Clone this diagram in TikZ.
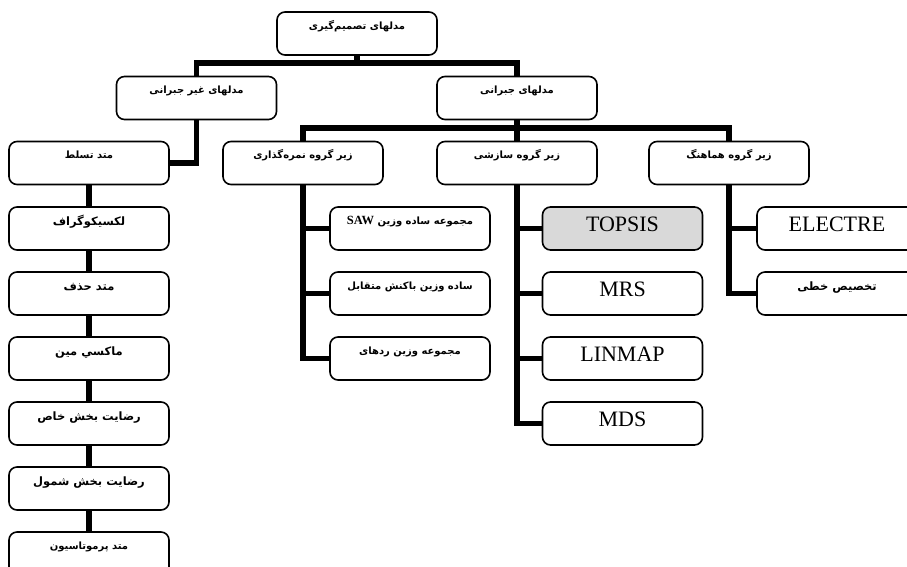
\documentclass[tikz,border=0pt]{standalone}
\usepackage{fontspec}
\setmainfont{Liberation Serif}
\newfontfamily\fa[Script=Arabic]{DejaVu Sans}
\TeXXeTstate=1
\definecolor{boxgray}{HTML}{D9D9D9}
\tikzset{
  box/.style={draw, line width=1.6pt, rounded corners=8pt, minimum width=160pt,
    minimum height=43pt, inner sep=0pt, text height=17pt, text depth=26pt,
    font=\fa\bfseries\fontsize{10}{12}\selectfont},
  bigfa/.style={font=\fa\bfseries\fontsize{11.5}{13}\selectfont, text height=18pt, text depth=25pt},
  lat/.style={font=\rmfamily\fontsize{22}{24}\selectfont, text height=24pt, text depth=19pt},
  conn/.style={line width=5.5pt, line join=miter}
}
\begin{document}
\begin{tikzpicture}[x=1pt,y=-1pt]
\clip (0,0) rectangle (907,566);
% top levels
\node[box] (top) at (357,33.5) {\beginR مدلهای تصمیم‌گیری\endR};
\node[box] (L) at (196.5,98) {\beginR مدلهای غیر جبرانی\endR};
\node[box] (R) at (517,98) {\beginR مدلهای جبرانی\endR};
\node[box] (A) at (303,163) {\beginR زیر گروه نمره‌گذاری\endR};
\node[box] (B) at (517,163) {\beginR زیر گروه سازشی\endR};
\node[box] (C) at (729,163) {\beginR زیر گروه هماهنگ\endR};
% left column
\node[box] (l1) at (89,163) {\beginR متد تسلط\endR};
\node[box,bigfa] (l2) at (89,228.5) {\beginR لکسیکوگراف\endR};
\node[box,bigfa] (l3) at (89,293.5) {\beginR متد حذف\endR};
\node[box,bigfa] (l4) at (89,358.5) {\beginR ماکسي مين\endR};
\node[box,bigfa] (l5) at (89,423.5) {\beginR رضایت بخش خاص\endR};
\node[box,bigfa] (l6) at (89,488.5) {\beginR رضایت بخش شمول\endR};
\node[box] (l7) at (89,553.5) {\beginR متد پرموتاسیون\endR};
% scoring children
\node[box] (a1) at (410,228.5) {\beginR مجموعه ساده وزین \beginL{\rmfamily\bfseries\fontsize{12.5}{14}\selectfont SAW}\endL\endR};
\node[box] (a2) at (410,293.5) {\beginR ساده وزین باکنش متقابل\endR};
\node[box] (a3) at (410,358.5) {\beginR مجموعه وزین ردهای\endR};
% compromise children
\node[box,lat,fill=boxgray] (b1) at (622.5,228.5) {TOPSIS};
\node[box,lat] (b2) at (622.5,293.5) {MRS};
\node[box,lat] (b3) at (622.5,358.5) {LINMAP};
\node[box,lat] (b4) at (622.5,423.5) {MDS};
% concordance children
\node[box,lat] (c1) at (837,228.5) {ELECTRE};
\node[box,bigfa] (c2) at (837,293.5) {\beginR تخصیص خطی\endR};
% connectors
\coordinate (j1) at (357,63);
\coordinate (j2) at (517,128);
\draw[conn] (top.south) -- (j1);
\draw[conn] (L.north) |- (j1) -| (R.north);
\draw[conn] (R.south) -- (j2);
\draw[conn] (A.north) |- (j2) -| (C.north);
\draw[conn] (j2) -- (B.north);
\draw[conn] (L.south) |- (l1.east);
\draw[conn] (l1) -- (l2);
\draw[conn] (l2) -- (l3);
\draw[conn] (l3) -- (l4);
\draw[conn] (l4) -- (l5);
\draw[conn] (l5) -- (l6);
\draw[conn] (l6) -- (l7);
\draw[conn] (A.south) |- (a3.west);
\draw[conn] (A.south |- a1.west) -- (a1.west);
\draw[conn] (A.south |- a2.west) -- (a2.west);
\draw[conn] (B.south) |- (b4.west);
\draw[conn] (B.south |- b1.west) -- (b1.west);
\draw[conn] (B.south |- b2.west) -- (b2.west);
\draw[conn] (B.south |- b3.west) -- (b3.west);
\draw[conn] (C.south) |- (c2.west);
\draw[conn] (C.south |- c1.west) -- (c1.west);
\end{tikzpicture}
\end{document}
